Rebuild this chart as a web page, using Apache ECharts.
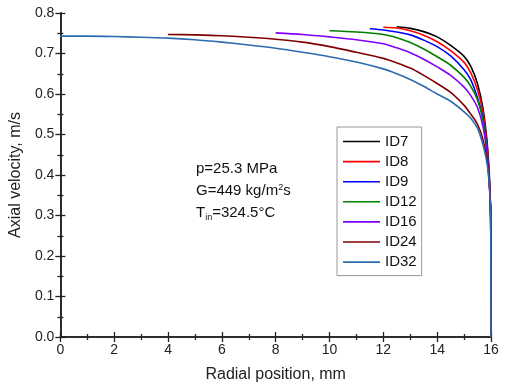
<!DOCTYPE html>
<html><head><meta charset="utf-8">
<script src="https://cdn.jsdelivr.net/npm/echarts@6/dist/echarts.min.js"></script>
<style>html,body{margin:0;padding:0;background:#fff}#c{width:510px;height:389px}</style>
</head><body><div id="c"></div>
<script>
const seriesNames = ['ID7','ID8','ID9','ID12','ID16','ID24','ID32'];
const xID7  = [12.5, 13, 13.5, 14, 14.5, 15, 15.25, 15.5, 15.7, 15.85, 15.93, 15.97, 15.99, 16];
const vID7  = [0.766, 0.762, 0.754, 0.741, 0.720, 0.693, 0.668, 0.625, 0.565, 0.485, 0.41, 0.345, 0.29, 0.0];
const xID8  = [12, 12.5, 13, 13.5, 14, 14.5, 15, 15.25, 15.5, 15.7, 15.85, 15.93, 15.97, 15.99, 16];
const vID8  = [0.765, 0.763, 0.756, 0.745, 0.729, 0.707, 0.678, 0.652, 0.61, 0.555, 0.475, 0.40, 0.34, 0.29, 0.0];
const xID9  = [11.5, 12, 12.5, 13, 13.5, 14, 14.5, 15, 15.25, 15.5, 15.7, 15.85, 15.93, 15.97, 15.99, 16];
const vID9  = [0.761, 0.758, 0.753, 0.746, 0.733, 0.717, 0.694, 0.660, 0.635, 0.59, 0.54, 0.465, 0.39, 0.34, 0.29, 0.0];
const xID12 = [10, 11, 12, 12.5, 13, 13.5, 14, 14.5, 15, 15.25, 15.5, 15.7, 15.85, 15.93, 15.97, 15.99, 16];
const vID12 = [0.756, 0.753, 0.747, 0.739, 0.727, 0.711, 0.692, 0.671, 0.641, 0.619, 0.585, 0.535, 0.46, 0.39, 0.34, 0.29, 0.0];
const xID16 = [8, 9, 10, 11, 12, 12.5, 13, 13.5, 14, 14.5, 15, 15.25, 15.5, 15.7, 15.85, 15.93, 15.97, 15.99, 16];
const vID16 = [0.751, 0.747, 0.741, 0.734, 0.724, 0.714, 0.702, 0.686, 0.667, 0.646, 0.617, 0.596, 0.566, 0.52, 0.455, 0.39, 0.34, 0.29, 0.0];
const xID24 = [4, 5, 6, 7, 8, 9, 10, 11, 12, 12.5, 13, 13.5, 14, 14.5, 15, 15.25, 15.5, 15.7, 15.85, 15.93, 15.97, 15.99, 16];
const vID24 = [0.747, 0.746, 0.744, 0.740, 0.735, 0.728, 0.717, 0.703, 0.688, 0.677, 0.664, 0.646, 0.626, 0.604, 0.572, 0.550, 0.525, 0.488, 0.44, 0.39, 0.34, 0.29, 0.0];
const xID32 = [0, 1, 2, 3, 4, 5, 6, 7, 8, 9, 10, 11, 12, 12.5, 13, 13.5, 14, 14.5, 15, 15.25, 15.5, 15.7, 15.85, 15.93, 15.97, 15.99, 16];
const vID32 = [0.743, 0.743, 0.742, 0.740, 0.738, 0.734, 0.728, 0.721, 0.713, 0.703, 0.692, 0.679, 0.662, 0.650, 0.636, 0.619, 0.600, 0.582, 0.556, 0.540, 0.515, 0.475, 0.43, 0.38, 0.33, 0.28, 0.0];
const colors = ['#000000','#ff0000','#0000ff','#008000','#8000ff','#800000','#2d6bb0'];
const xs = [xID7,xID8,xID9,xID12,xID16,xID24,xID32];
const vs = [vID7,vID8,vID9,vID12,vID16,vID24,vID32];

const chart = echarts.init(document.getElementById('c'));
const axisLine = {show:true, lineStyle:{color:'#222', width:1.6}};
const font = 'Liberation Sans, Arial, sans-serif';
function mkX(pos, showLabel){
  return {type:'value', position:pos, min:0, max:16, interval:2,
    axisLine: axisLine, axisTick:{show:true, inside:true, length:5, lineStyle:{color:'#222', width:1.3}},
    minorTick:{show:true, splitNumber:2, length:3, lineStyle:{color:'#222', width:1.3}},
    splitLine:{show:false}, minorSplitLine:{show:false},
    axisLabel:{show:showLabel, color:'#222', fontSize:14, fontFamily:font, margin:6},
    name: showLabel ? 'Radial position, mm' : '', nameLocation:'middle', nameGap:30,
    nameTextStyle:{color:'#222', fontSize:16, fontFamily:font}};
}
function mkY(pos, showLabel){
  return {type:'value', position:pos, min:0, max:0.8, interval:0.1,
    axisLine: axisLine, axisTick:{show:true, inside:true, length:5, lineStyle:{color:'#222', width:1.3}},
    minorTick:{show:true, splitNumber:2, length:3, lineStyle:{color:'#222', width:1.3}},
    splitLine:{show:false}, minorSplitLine:{show:false},
    axisLabel:{show:showLabel, color:'#222', fontSize:14, fontFamily:font, margin:6,
      formatter: v => v.toFixed(1)},
    name: showLabel ? 'Axial velocity, m/s' : '', nameLocation:'middle', nameGap:31, nameRotate:90,
    nameTextStyle:{color:'#222', fontSize:16, fontFamily:font}};
}
const series = seriesNames.map((n,i)=>({
  name:n, type:'line', xAxisIndex:0, yAxisIndex:0, showSymbol:false, symbol:'none',
  smooth:0.3,
  lineStyle:{color:colors[i], width:1.6}, itemStyle:{color:colors[i]},
  data: xs[i].map((x,j)=>[x, vs[i][j]])
}));
chart.setOption({
  animation:false,
  grid:{left:52, right:19, top:13, bottom:52, containLabel:false},
  xAxis:[mkX('bottom', true), mkX('top', false)],
  yAxis:[mkY('left', true), mkY('right', false)],
  legend:{show:true, orient:'vertical', left:337, top:127, data:seriesNames,
    icon:'rect', itemWidth:37, itemHeight:1.6, itemGap:5.1, padding:[7,5,6,6],
    borderColor:'#999', borderWidth:1,
    textStyle:{color:'#111', fontSize:15, lineHeight:14, fontFamily:font}},
  graphic:[
    {type:'text', left:196, top:161, style:{text:'p=25.3 MPa', fontSize:15, fontFamily:font, fill:'#111'}},
    {type:'text', left:196, top:183, style:{rich:{a:{fontSize:15, fontFamily:font, fill:'#111'}, s:{fontSize:9, fontFamily:font, fill:'#111', verticalAlign:'top', lineHeight:10}}, text:'{a|G=449 kg/m}{s|2}{a|s}'}},
    {type:'text', left:196, top:205, style:{rich:{a:{fontSize:15, fontFamily:font, fill:'#111'}, b:{fontSize:9, fontFamily:font, fill:'#111', padding:[10,0,0,0]}}, text:'{a|T}{b|in}{a|=324.5°C}'}}
  ],
  series: series
});
</script></body></html>
